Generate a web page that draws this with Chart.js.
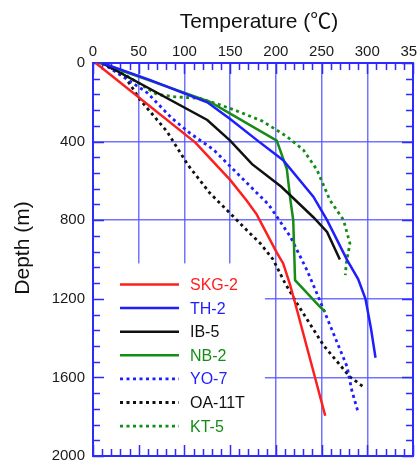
<!DOCTYPE html>
<html>
<head>
<meta charset="utf-8">
<script src="https://cdn.jsdelivr.net/npm/chart.js@4"></script>
<style>
  html, body { margin: 0; padding: 0; background: #fff; }
  canvas { display: block; }
</style>
</head>
<body>
<canvas id="chart" width="417" height="461"></canvas>
<script>
// Well names, in legend order
const wellNames = ['SKG-2', 'TH-2', 'IB-5', 'NB-2', 'YO-7', 'OA-11T', 'KT-5'];

// Temperature (°C) and depth (m) logs for each well
const skg2Temp  = [3, 112, 150, 168, 179, 201, 208, 215, 221, 254];
const skg2Depth = [0, 405, 595, 700, 770, 965, 1020, 1120, 1220, 1795];

const th2Temp  = [10, 62, 125, 150, 180, 208, 241, 256, 278, 290, 298, 304, 309];
const th2Depth = [0, 86, 200, 285, 395, 495, 680, 800, 1003, 1100, 1200, 1350, 1500];

const ib5Temp  = [10, 125, 150, 174, 206, 241, 256, 270];
const ib5Depth = [0, 290, 395, 515, 630, 785, 860, 1000];

const nb2Temp  = [8, 128, 201, 212, 216, 219, 221, 248, 254];
const nb2Depth = [0, 198, 395, 540, 700, 800, 1105, 1240, 1265];

const yo7Temp  = [10, 59, 86, 106, 132, 143, 179, 192, 203, 216, 234, 248, 266, 278, 283, 290];
const yo7Depth = [0, 150, 280, 357, 442, 493, 660, 720, 795, 885, 1054, 1207, 1411, 1547, 1665, 1778];

const oa11tTemp  = [10, 35, 52, 81, 104, 128, 150, 168, 183, 197, 210, 223, 252, 281, 297];
const oa11tDepth = [0, 70, 190, 349, 520, 663, 765, 850, 918, 1000, 1120, 1223, 1436, 1597, 1652];

const kt5Temp  = [12, 35, 70, 90, 117, 139, 154, 185, 212, 230, 245, 259, 274, 281, 277, 276];
const kt5Depth = [0, 60, 160, 172, 180, 213, 238, 295, 374, 442, 544, 697, 799, 918, 1020, 1079];

// Axis tick labels
const tempTicks  = [0, 50, 100, 150, 200, 250, 300, 350];
const depthTicks = [0, 400, 800, 1200, 1600, 2000];

const FONT = '"Liberation Sans", Arial, "Noto Sans CJK JP", sans-serif';
const AXIS_BLUE = '#2b2bff';
const GRID_BLUE = 'rgba(80, 80, 255, 0.8)';

const RED = '#ff1e1e', BLUE = '#1e1eff', BLACK = '#111111', GREEN = '#168c16';
const SOLID = [], DOTTED = [3, 3.5];

function points(t, d) { return t.map((v, i) => ({ x: v, y: d[i] })); }

const seriesData = [
  points(skg2Temp, skg2Depth),
  points(th2Temp, th2Depth),
  points(ib5Temp, ib5Depth),
  points(nb2Temp, nb2Depth),
  points(yo7Temp, yo7Depth),
  points(oa11tTemp, oa11tDepth),
  points(kt5Temp, kt5Depth)
];
const seriesColors = [RED, BLUE, BLACK, GREEN, BLUE, BLACK, GREEN];
const seriesDash = [SOLID, SOLID, SOLID, SOLID, DOTTED, DOTTED, DOTTED];

const datasets = wellNames.map((name, i) => ({
  label: name,
  data: seriesData[i],
  borderColor: seriesColors[i],
  backgroundColor: seriesColors[i],
  borderDash: seriesDash[i],
  borderWidth: seriesDash[i].length ? 2.8 : 2.5,
  pointRadius: 0,
  showLine: true,
  fill: false,
  tension: 0
}));

// Frame, inward tick marks, legend panel, legend and axis titles
const framePlugin = {
  id: 'frame',
  beforeDatasetsDraw(chart) {
    const { ctx, chartArea: a, scales: { x, y } } = chart;
    ctx.save();
    // white panel behind the legend hides the grid there
    const panelRight = x.getPixelForValue(188);
    const panelTop = y.getPixelForValue(1020);
    ctx.fillStyle = '#ffffff';
    ctx.fillRect(a.left + 1, panelTop, panelRight - a.left - 1, a.bottom - panelTop - 1);

    ctx.strokeStyle = AXIS_BLUE;
    ctx.lineWidth = 1.5;
    ctx.beginPath();
    for (let v = 0; v <= 350; v += 10) {
      const px = Math.round(x.getPixelForValue(v)) + 0.5;
      const len = v % 50 === 0 ? 11 : 7;
      ctx.moveTo(px, a.top); ctx.lineTo(px, a.top + len);
      ctx.moveTo(px, a.bottom); ctx.lineTo(px, a.bottom - len);
    }
    for (let v = 0; v <= 2000; v += 80) {
      const py = Math.round(y.getPixelForValue(v)) + 0.5;
      const len = v % 400 === 0 ? 11 : 7;
      ctx.moveTo(a.left, py); ctx.lineTo(a.left + len, py);
      ctx.moveTo(a.right, py); ctx.lineTo(a.right - len, py);
    }
    ctx.stroke();

    ctx.lineWidth = 2;
    ctx.strokeRect(a.left, a.top, a.right - a.left, a.bottom - a.top);
    ctx.restore();
  },
  afterDatasetsDraw(chart) {
    const { ctx } = chart;
    ctx.save();
    // legend
    const rowTop = 284.5, rowGap = 23.6;
    chart.data.datasets.forEach((ds, i) => {
      const yy = rowTop + i * rowGap;
      ctx.beginPath();
      ctx.setLineDash(ds.borderDash);
      ctx.strokeStyle = ds.borderColor;
      ctx.lineWidth = ds.borderWidth;
      ctx.moveTo(120, yy);
      ctx.lineTo(179, yy);
      ctx.stroke();
      ctx.setLineDash([]);
      ctx.fillStyle = ds.borderColor;
      ctx.font = '16px ' + FONT;
      ctx.textAlign = 'left';
      ctx.textBaseline = 'middle';
      ctx.fillText(ds.label, 190, yy + 1);
    });

    // axis titles
    ctx.fillStyle = '#111';
    ctx.font = '21px ' + FONT;
    ctx.textAlign = 'center';
    ctx.textBaseline = 'middle';
    ctx.fillText('Temperature (℃)', 259, 22);
    ctx.translate(23, 248);
    ctx.rotate(-Math.PI / 2);
    ctx.fillText('Depth (m)', 0, 0);
    ctx.restore();
  }
};

const plainLabel = (v) => String(v);

new Chart(document.getElementById('chart'), {
  type: 'line',
  data: { datasets },
  options: {
    responsive: false,
    animation: false,
    devicePixelRatio: 1,
    layout: { padding: { left: 0, right: 4, top: 0, bottom: 5 } },
    plugins: {
      legend: { display: false },
      tooltip: { enabled: false }
    },
    scales: {
      x: {
        type: 'linear',
        position: 'top',
        min: 0,
        max: 350,
        afterBuildTicks: (s) => { s.ticks = tempTicks.map(v => ({ value: v })); },
        afterFit: (s) => { s.height = 63; s.paddingLeft = 0; s.paddingRight = 0; },
        grid: { color: GRID_BLUE, lineWidth: 1.5, drawTicks: false },
        border: { display: false },
        ticks: { font: { family: FONT, size: 15 }, color: '#1a1a1a', padding: 2, maxRotation: 0, callback: plainLabel }
      },
      y: {
        type: 'linear',
        reverse: true,
        min: 0,
        max: 2000,
        afterBuildTicks: (s) => { s.ticks = depthTicks.map(v => ({ value: v })); },
        afterFit: (s) => { s.width = 93; s.paddingTop = 0; s.paddingBottom = 0; },
        grid: { color: GRID_BLUE, lineWidth: 1.5, drawTicks: false },
        border: { display: false },
        ticks: { font: { family: FONT, size: 15 }, color: '#1a1a1a', padding: 8, callback: plainLabel }
      }
    }
  },
  plugins: [framePlugin]
});
</script>
</body>
</html>
